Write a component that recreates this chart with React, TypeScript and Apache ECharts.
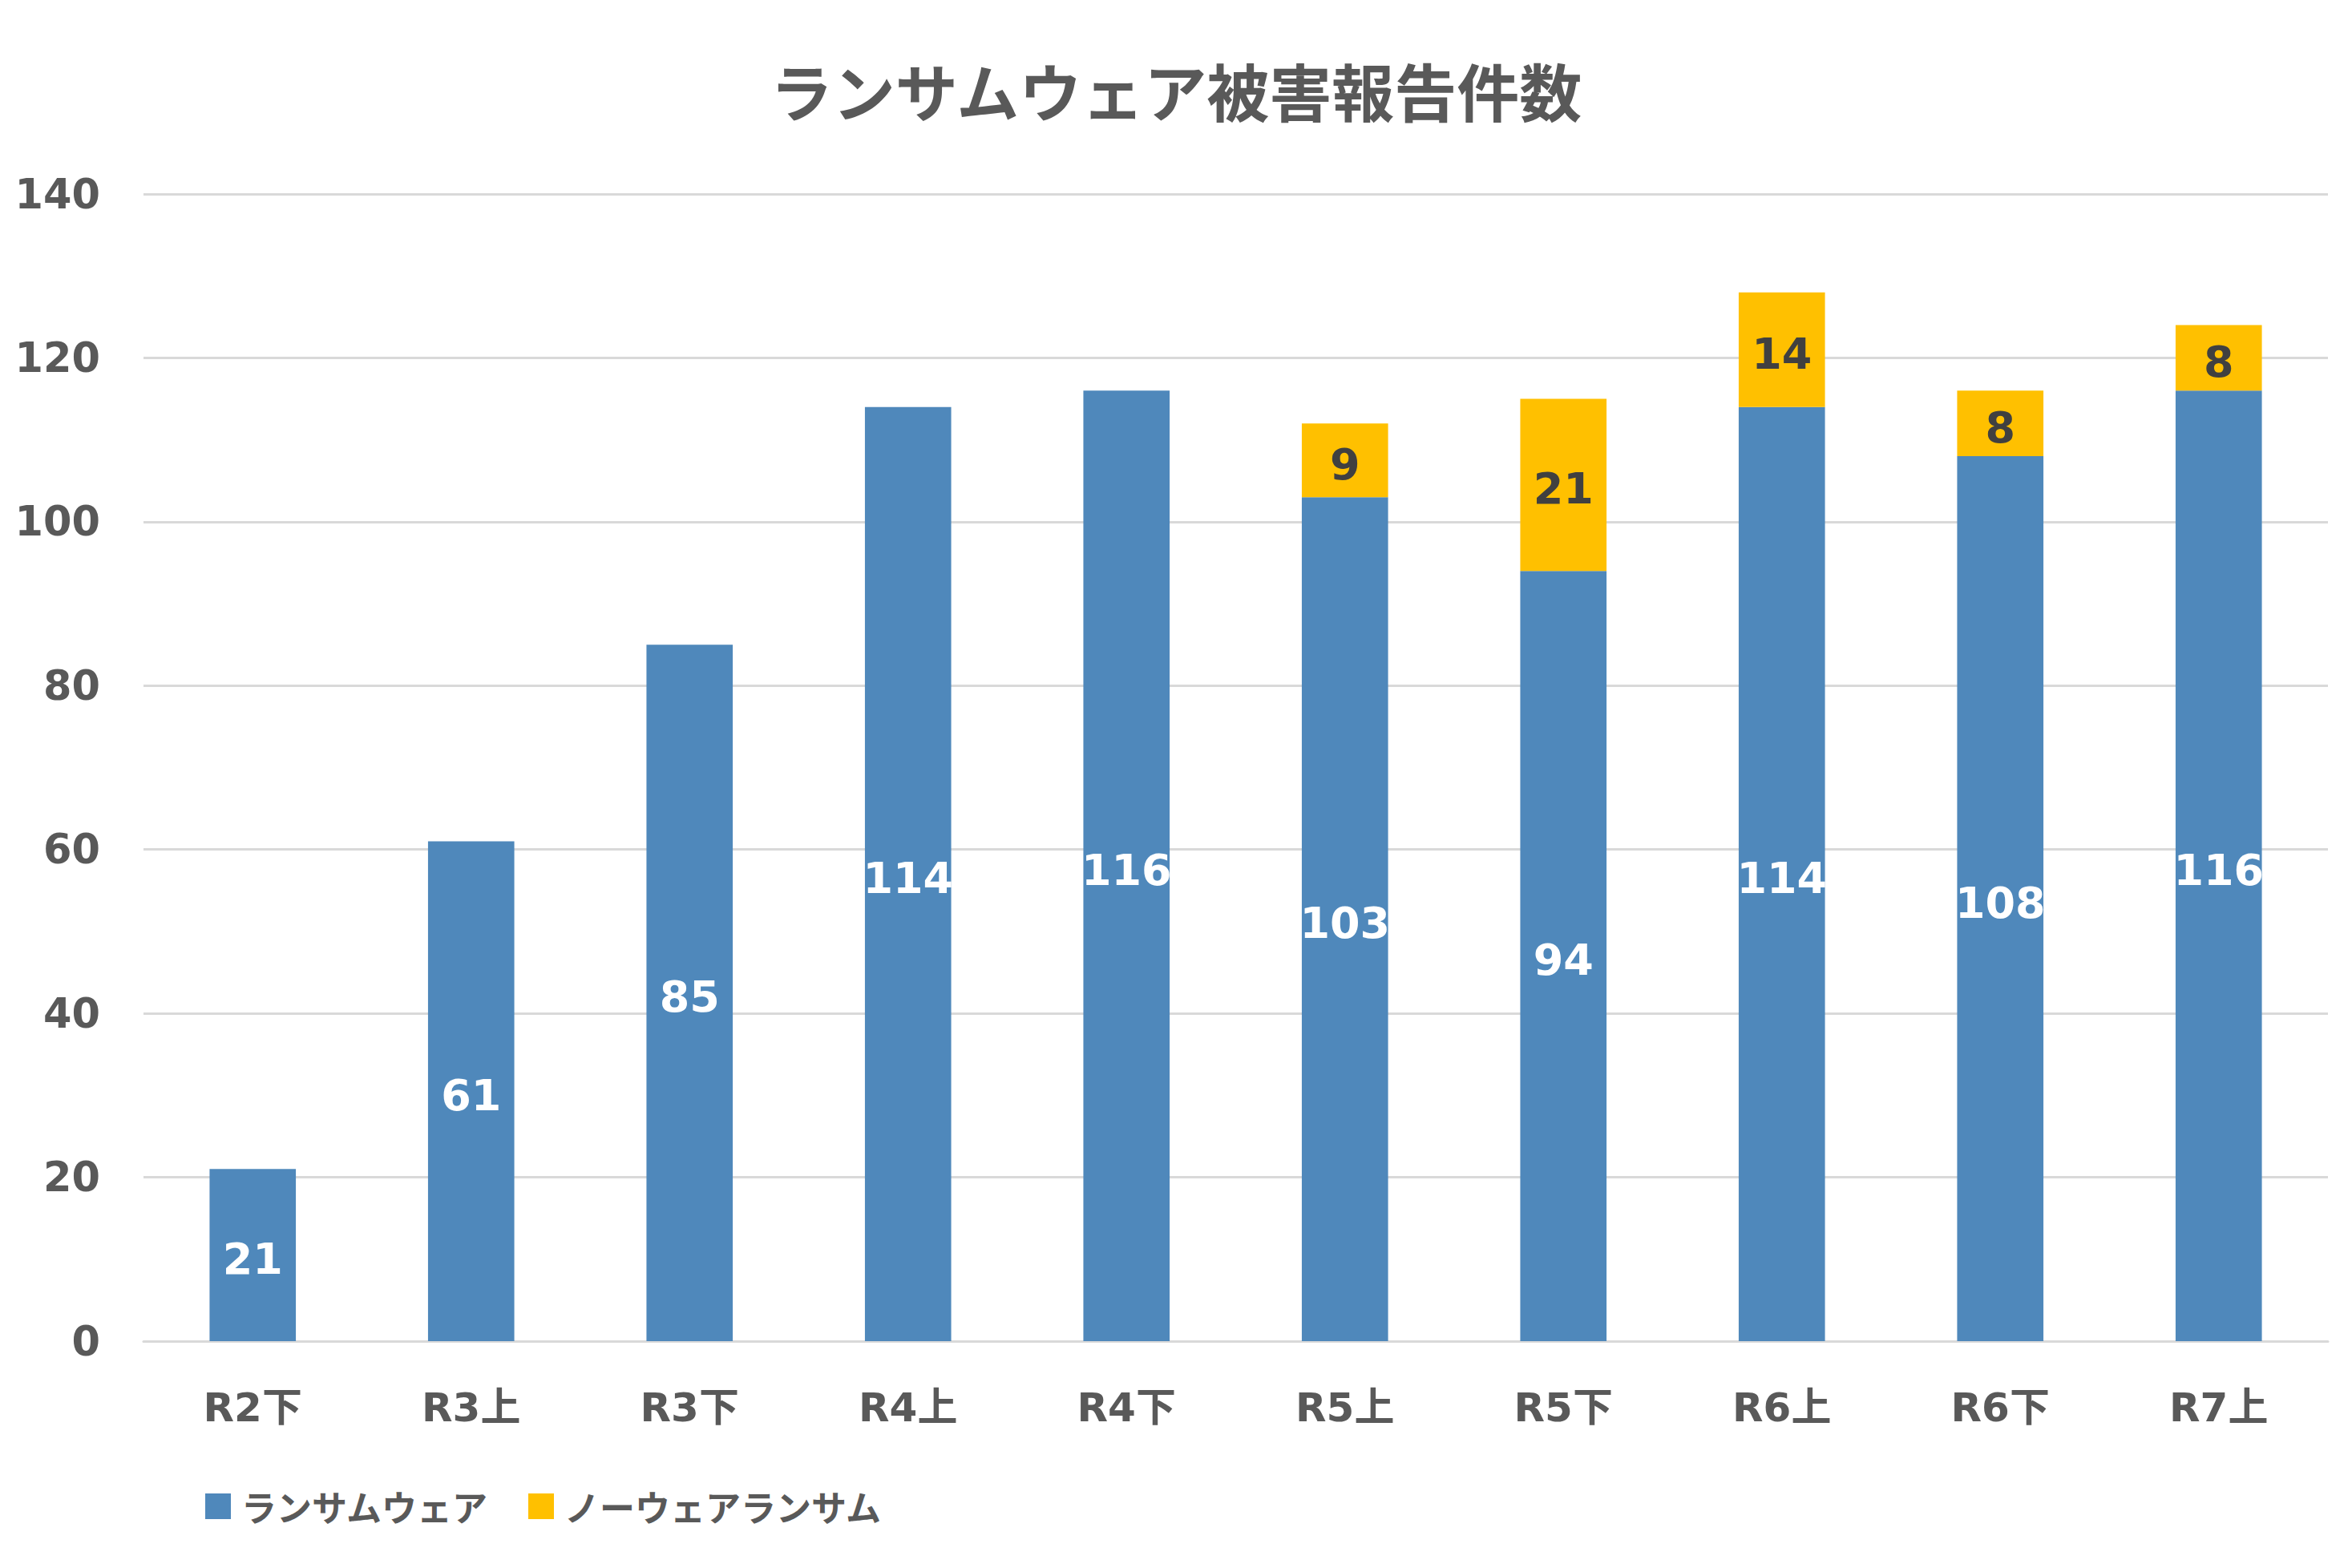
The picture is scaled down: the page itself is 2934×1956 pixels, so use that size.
import React, { useEffect, useRef } from "react";
import * as echarts from "echarts";

const titleText = "ランサムウェア被害報告件数";
const categories = ["R2下", "R3上", "R3下", "R4上", "R4下", "R5上", "R5下", "R6上", "R6下", "R7上"];
const ransomwareName = "ランサムウェア";
const ransomwareValues = [21, 61, 85, 114, 116, 103, 94, 114, 108, 116];
const nowareName = "ノーウェアランサム";
const nowareValues: (number | string)[] = ["-", "-", "-", "-", "-", 9, 21, 14, 8, 8];
const yMin = 0;
const yMax = 140;
const yInterval = 20;

const FONT = "'Noto Sans CJK JP', 'Noto Sans', sans-serif";
const NUMFONT = "'DejaVu Sans', 'Noto Sans CJK JP', sans-serif";

export default function App() {
  const ref = useRef<HTMLDivElement>(null);
  useEffect(() => {
    if (!ref.current) return;
    const chart = echarts.init(ref.current, undefined, { renderer: "svg" });
    chart.setOption({
      animation: false,
      backgroundColor: "#ffffff",
      textStyle: { fontFamily: FONT },
      title: {
        text: titleText,
        left: "center",
        top: 68,
        textStyle: { fontFamily: FONT, fontSize: 78, fontWeight: "bold", color: "#595959" },
      },
      legend: {
        left: 251,
        top: 1852,
        itemWidth: 32,
        itemHeight: 32,
        itemGap: 50,
        icon: "rect",
        data: [ransomwareName, nowareName],
        textStyle: {
          fontFamily: FONT,
          fontSize: 44,
          fontWeight: "bold",
          color: "#595959",
          padding: [0, 0, 0, 8],
        },
      },
      grid: { left: 179, right: 30, top: 242, bottom: 283, containLabel: false },
      xAxis: {
        type: "category",
        data: categories,
        axisLine: { show: true, lineStyle: { color: "#D9D9D9", width: 3 } },
        axisTick: { show: false },
        axisLabel: { fontFamily: NUMFONT, fontSize: 50, fontWeight: "bold", color: "#595959", margin: 58 },
      },
      yAxis: {
        type: "value",
        min: yMin,
        max: yMax,
        interval: yInterval,
        axisLine: { show: false },
        axisTick: { show: false },
        splitLine: { lineStyle: { color: "#D9D9D9", width: 3 } },
        axisLabel: { fontFamily: NUMFONT, fontSize: 51, fontWeight: "bold", color: "#595959", margin: 54 },
      },
      series: [
        {
          name: ransomwareName,
          type: "bar",
          stack: "total",
          barWidth: "39.5%",
          data: ransomwareValues,
          itemStyle: { color: "#4F88BB" },
          label: {
            show: true,
            position: "inside",
            offset: [0, 5],
            fontFamily: NUMFONT,
            fontSize: 54,
            fontWeight: "bold",
            color: "#ffffff",
          },
        },
        {
          name: nowareName,
          type: "bar",
          stack: "total",
          barWidth: "39.5%",
          data: nowareValues,
          itemStyle: { color: "#FFC000" },
          label: {
            show: true,
            position: "inside",
            offset: [0, 5],
            fontFamily: NUMFONT,
            fontSize: 54,
            fontWeight: "bold",
            color: "#404040",
          },
        },
      ],
    });
    return () => chart.dispose();
  }, []);
  return (
    <div
      ref={ref}
      style={{ position: "fixed", left: 0, top: 0, width: 2934, height: 1956, background: "#fff" }}
    />
  );
}
